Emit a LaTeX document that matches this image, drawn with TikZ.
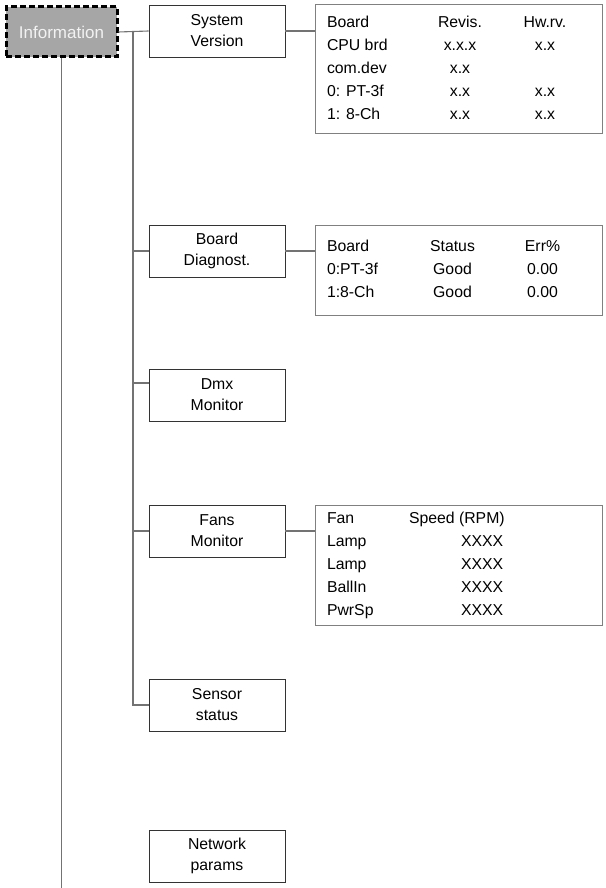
\documentclass[tikz,border=0pt]{standalone}
\usepackage{fontspec}
\setmainfont{Liberation Sans}
\usepackage{array}

\begin{document}
\begin{tikzpicture}[
    x=1pt, y=-1pt,
    link/.style={draw=black!55, line width=1.1pt},
    menu/.style={rectangle, draw=black!80, line width=0.9pt, minimum width=136pt, minimum height=52pt, align=center, inner sep=0pt, font=\fontsize{15.8}{21}\selectfont},
    root/.style={rectangle, draw=black, fill=black!35, text=black!5, line width=3pt, dash pattern=on 6pt off 3pt, minimum width=111pt, minimum height=50pt, font=\fontsize{17}{18}\selectfont},
    panel/.style={rectangle, draw=black!50, line width=1pt, minimum width=287pt, inner xsep=12pt, inner ysep=0pt, font=\fontsize{15.8}{23}\selectfont}
]
\useasboundingbox (0,0) rectangle (605,888);

% racine
\node[root] (info) at (61.5,32) {Information};

% sous-menus
\node[menu] (sys) at (217,31)  {System\\Version};
\node[menu] (brd) at (217,251) {Board\\Diagnost.};
\node[menu] (dmx) at (217,395) {Dmx\\Monitor};
\node[menu] (fan) at (217,531) {Fans\\Monitor};
\node[menu] (sen) at (217,705) {Sensor\\status};
\node[menu] (net) at (217,856) {Network\\params};

% tableaux
\node[panel, minimum height=128pt] (verTab) at (458.5,69) {%
  \begin{tabular}{@{}p{93pt}@{}>{\centering}p{80pt}@{}>{\centering\arraybackslash}p{90pt}@{}}
  Board    & Revis. & Hw.rv. \\
  CPU brd  & x.x.x  & x.x \\
  com.dev  & x.x    & \\
  0: PT-3f & x.x    & x.x \\
  1: 8-Ch  & x.x    & x.x
  \end{tabular}};

\node[panel, minimum height=90pt] (diagTab) at (458.5,270) {%
  \begin{tabular}{@{}p{83pt}@{}>{\centering}p{85pt}@{}>{\centering\arraybackslash}p{95pt}@{}}
  Board   & Status & Err\% \\
  0:PT-3f & Good   & 0.00 \\
  1:8-Ch  & Good   & 0.00
  \end{tabular}};

\node[panel, minimum height=120pt] (fanTab) at (458.5,565) {%
  \begin{tabular}{@{}p{82pt}@{}p{181pt}@{}}
  Fan    & Speed (RPM) \\
  Lamp   & \hspace*{52pt}XXXX \\
  Lamp   & \hspace*{52pt}XXXX \\
  BallIn & \hspace*{52pt}XXXX \\
  PwrSp  & \hspace*{52pt}XXXX
  \end{tabular}};

% liaisons
\coordinate (top) at (133,32);
\draw[link] (info.south) -- (61.5,888);
\draw[link] (info.east) -- (sys.west);
\draw[link] (top) |- (sen.west);
\draw[link] (top |- brd.west) -- (brd.west);
\draw[link] ([yshift=12pt]dmx.west -| top) -- ([yshift=12pt]dmx.west);
\draw[link] (top |- fan.west) -- (fan.west);
\draw[link] (sys.east) -- (sys.east -| verTab.west);
\draw[link] (brd.east) -- (brd.east -| diagTab.west);
\draw[link] (fan.east) -- (fan.east -| fanTab.west);

\end{tikzpicture}
\end{document}
